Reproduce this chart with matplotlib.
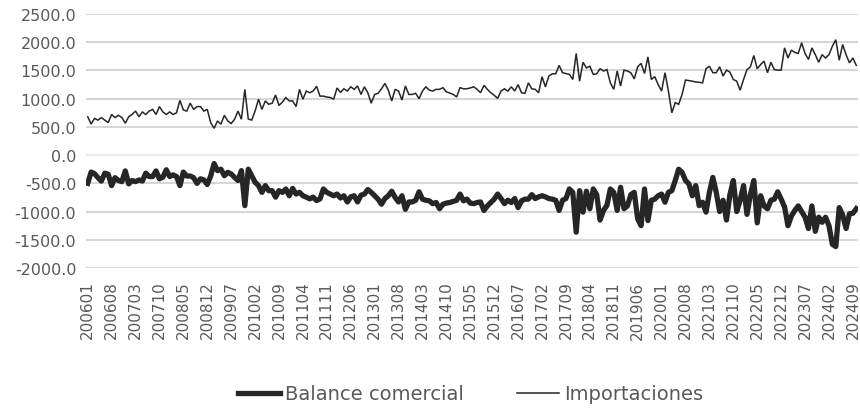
import numpy as np
import matplotlib
matplotlib.use("Agg")
import matplotlib.pyplot as plt
from matplotlib.ticker import FuncFormatter

# Monthly categories 200601 .. 202410
months = [f"{2006 + k // 12}{k % 12 + 1:02d}" for k in range(226)]

importaciones = [
    680, 550, 650, 620, 665, 620, 575, 720, 665, 705, 665, 565,
    680, 720, 780, 680, 765, 720, 780, 810, 720, 860, 765, 720,
    765, 720, 750, 970, 800, 780, 920, 810, 860, 860, 780, 810,
    575, 475, 605, 547, 705, 605, 560, 635, 780, 635, 1165, 640,
    620, 780, 990, 810, 960, 900, 920, 1065, 880, 940, 1020, 960,
    960, 860, 1165, 990, 1135, 1105, 1135, 1220, 1045, 1045, 1030, 1020,
    990, 1190, 1110, 1175, 1135, 1210, 1165, 1225, 1075, 1210, 1105, 920,
    1075, 1095, 1175, 1270, 1150, 960, 1165, 1135, 975, 1225, 1075, 1075,
    1095, 1000, 1135, 1210, 1150, 1135, 1165, 1165, 1195, 1120, 1100, 1075,
    1030, 1195, 1175, 1175, 1190, 1210, 1165, 1105, 1235, 1165, 1105, 1060,
    1005, 1135, 1175, 1135, 1210, 1135, 1250, 1105, 1095, 1280, 1175, 1165,
    1105, 1390, 1210, 1400, 1440, 1440, 1590, 1460, 1445, 1430, 1340, 1800,
    1310, 1645, 1545, 1575, 1430, 1440, 1530, 1490, 1515, 1280, 1165, 1490,
    1225, 1505, 1490, 1460, 1350, 1565, 1625, 1445, 1740, 1340, 1390, 1250,
    1135, 1460, 1135, 750, 930, 900, 1075, 1330, 1320, 1310, 1295, 1290,
    1280, 1530, 1575, 1460, 1460, 1565, 1400, 1505, 1470, 1340, 1310, 1150,
    1340, 1515, 1565, 1765, 1530, 1605, 1665, 1460, 1645, 1515, 1505, 1505,
    1900, 1720, 1860, 1820, 1800, 1990, 1800, 1695, 1900, 1780, 1645, 1780,
    1720, 1780, 1930, 2045, 1680, 1960, 1780, 1635, 1720, 1590,
]

balance = [
    -500, -300, -330, -400, -460, -320, -340, -540, -400, -450, -470, -280,
    -510, -450, -470, -440, -460, -320, -380, -380, -280, -420, -390, -260,
    -380, -350, -380, -540, -300, -370, -370, -400, -500, -420, -440, -520,
    -370, -150, -275, -250, -365, -305, -335, -395, -450, -275, -895, -250,
    -365, -480, -540, -660, -540, -630, -630, -745, -630, -660, -600, -720,
    -590, -690, -660, -720, -745, -775, -745, -805, -775, -600, -660, -690,
    -720, -690, -760, -720, -830, -740, -720, -830, -710, -690, -610, -660,
    -720, -780, -870, -770, -720, -640, -750, -830, -720, -960, -830, -830,
    -800, -650, -780, -800, -810, -860, -840, -950, -870, -850, -840, -820,
    -800, -690, -810, -780, -850, -860, -840, -830, -980, -900, -840, -780,
    -690, -770, -860, -800, -840, -770, -930, -810, -780, -780, -700, -770,
    -740, -720, -740, -770, -780, -800, -980, -800, -770, -600, -660, -1365,
    -630, -1010, -640, -950, -600, -700, -1150, -980, -890, -600, -660, -980,
    -570, -950, -900, -700, -660, -1130, -1250, -600, -1160, -800, -780, -720,
    -690, -835, -660, -630, -450, -250, -305, -450, -510, -720, -540, -895,
    -835, -1010, -660, -395, -660, -1000, -800, -1150, -700, -450, -1000, -800,
    -540, -1050, -700, -450, -1200, -720, -900, -950, -800, -780, -650, -780,
    -920, -1250, -1080, -980, -900, -1000, -1100, -1300, -900, -1350, -1100, -1190,
    -1100, -1250, -1580, -1620, -930, -1060, -1300, -1040, -1030, -950,
]

y_ticks = list(range(-2000, 2501, 500))
label_step = 7

TEXT = "#595959"
LINE = "#262626"

fig = plt.figure(figsize=(8.6, 4.1), dpi=100)
ax = fig.add_axes([86 / 860, 141 / 410, 772 / 860, 254 / 410])

x = np.arange(len(months))
for v in y_ticks:
    ax.axhline(v, color="#ebebeb" if v == 0 else "#d6d6d6", lw=1.5, zorder=1)

ax.plot(x, balance, color=LINE, lw=3.8, solid_joinstyle="round",
        label="Balance comercial", zorder=3)
ax.plot(x, importaciones, color=LINE, lw=1.1, solid_joinstyle="miter",
        label="Importaciones", zorder=3)

ax.set_xlim(-0.5, len(months) - 0.5)
ax.set_ylim(-2000, 2500)
ax.set_yticks(y_ticks)
ax.yaxis.set_major_formatter(FuncFormatter(lambda v, p: f"{v:.1f}"))
ax.set_xticks(x[::label_step])
ax.set_xticklabels(months[::label_step], rotation=90)

ax.tick_params(axis="y", length=0, pad=7, labelsize=11.5, labelcolor=TEXT)
ax.tick_params(axis="x", length=0, pad=9, labelsize=11, labelcolor=TEXT)
for s in ax.spines.values():
    s.set_visible(False)

fig.legend(loc="center", bbox_to_anchor=(0.547, 0.037), ncol=2, frameon=False,
           fontsize=14, handlelength=2.2, handletextpad=0.25, columnspacing=2.7,
           labelcolor=TEXT)

fig.savefig("out.png", dpi=100)
